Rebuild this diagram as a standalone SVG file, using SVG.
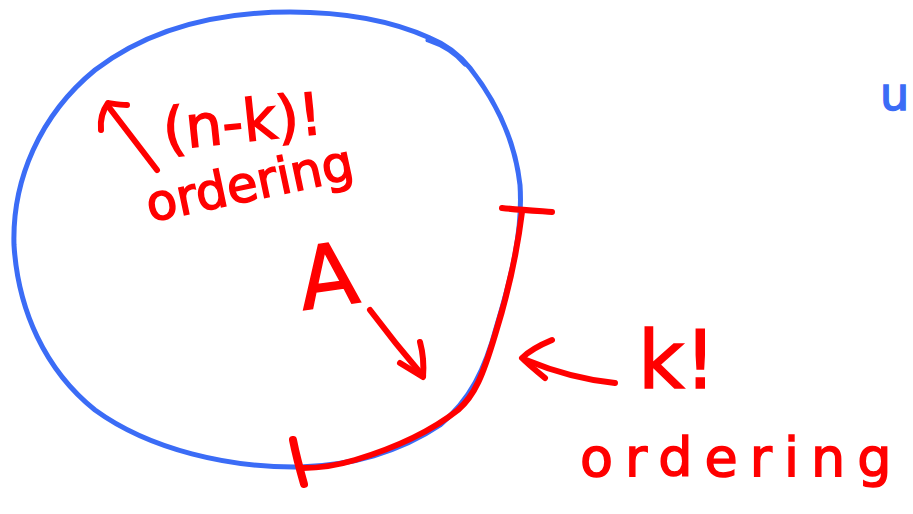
<svg xmlns="http://www.w3.org/2000/svg" width="913" height="514" viewBox="0 0 913 514">
<style>
.blue{fill:none;stroke:#3b6cf6;stroke-width:5;stroke-linecap:round;stroke-linejoin:round}
.red{fill:none;stroke:#ff0000;stroke-width:6;stroke-linecap:round;stroke-linejoin:round}
.rt{fill:#ff0000;stroke:#ff0000;stroke-width:1.5;font-family:"DejaVu Sans",sans-serif}
.bt{fill:#3b6cf6;stroke:#3b6cf6;stroke-width:1.5;font-family:"DejaVu Sans",sans-serif}
</style>
<rect width="913" height="514" fill="#ffffff"/>
<g id="set-circle">
<path class="blue" d="M290,12 C340,12 390,20 430,38 C450,46 462,58 470,68 C495,100 515,140 520,185 C523,230 512,275 497,325 C485,370 470,400 440,425 C400,452 350,466 300,467 C230,468 150,450 95,410 C45,370 18,310 14,245 C12,180 40,115 95,70 C150,28 220,12 290,12 Z"/>
<path class="blue" d="M428,40 C440,44 455,52 465,64"/>
</g>
<g id="bracket-right">
<path class="red" d="M502,208 C520,210 538,211 552,212"/>
<path class="red" d="M522,212 C516,260 506,300 495,335 C483,375 475,395 458,410 C430,432 395,448 355,460 C335,466 320,468 303,468"/>
<path class="red" d="M293,440 C296,455 300,470 304,484" style="stroke-width:8"/>
</g>
<g id="label-nk">
<path class="red" d="M157,170 L108,106"/>
<path class="red" d="M101,130 C100,120 103,110 108,103 C115,104 121,105 127,105"/>
<text class="rt" x="165" y="150" font-size="58" transform="rotate(-6 165 150)">(n-k)!</text>
<text class="rt" x="150" y="222" font-size="50" transform="rotate(-12 150 222)">ordering</text>
</g>
<g id="label-a">
<text class="rt" x="303" y="310" font-size="86" transform="rotate(-8 303 310)">A</text>
<path class="red" d="M370,310 C385,330 405,355 423,376"/>
<path class="red" d="M400,363 L423,377 C424,365 423,353 420,342"/>
</g>
<g id="label-k">
<path class="red" d="M552,340 C540,345 528,352 522,358 C530,366 538,372 545,378"/>
<path class="red" d="M526,360 C555,372 585,380 615,383"/>
<text class="rt" x="638" y="388" font-size="80">k!</text>
<text class="rt" x="580" y="476" font-size="54" letter-spacing="12">ordering</text>
</g>
<g id="label-u">
<text class="bt" x="880" y="110" font-size="46">u</text>
</g>
</svg>
